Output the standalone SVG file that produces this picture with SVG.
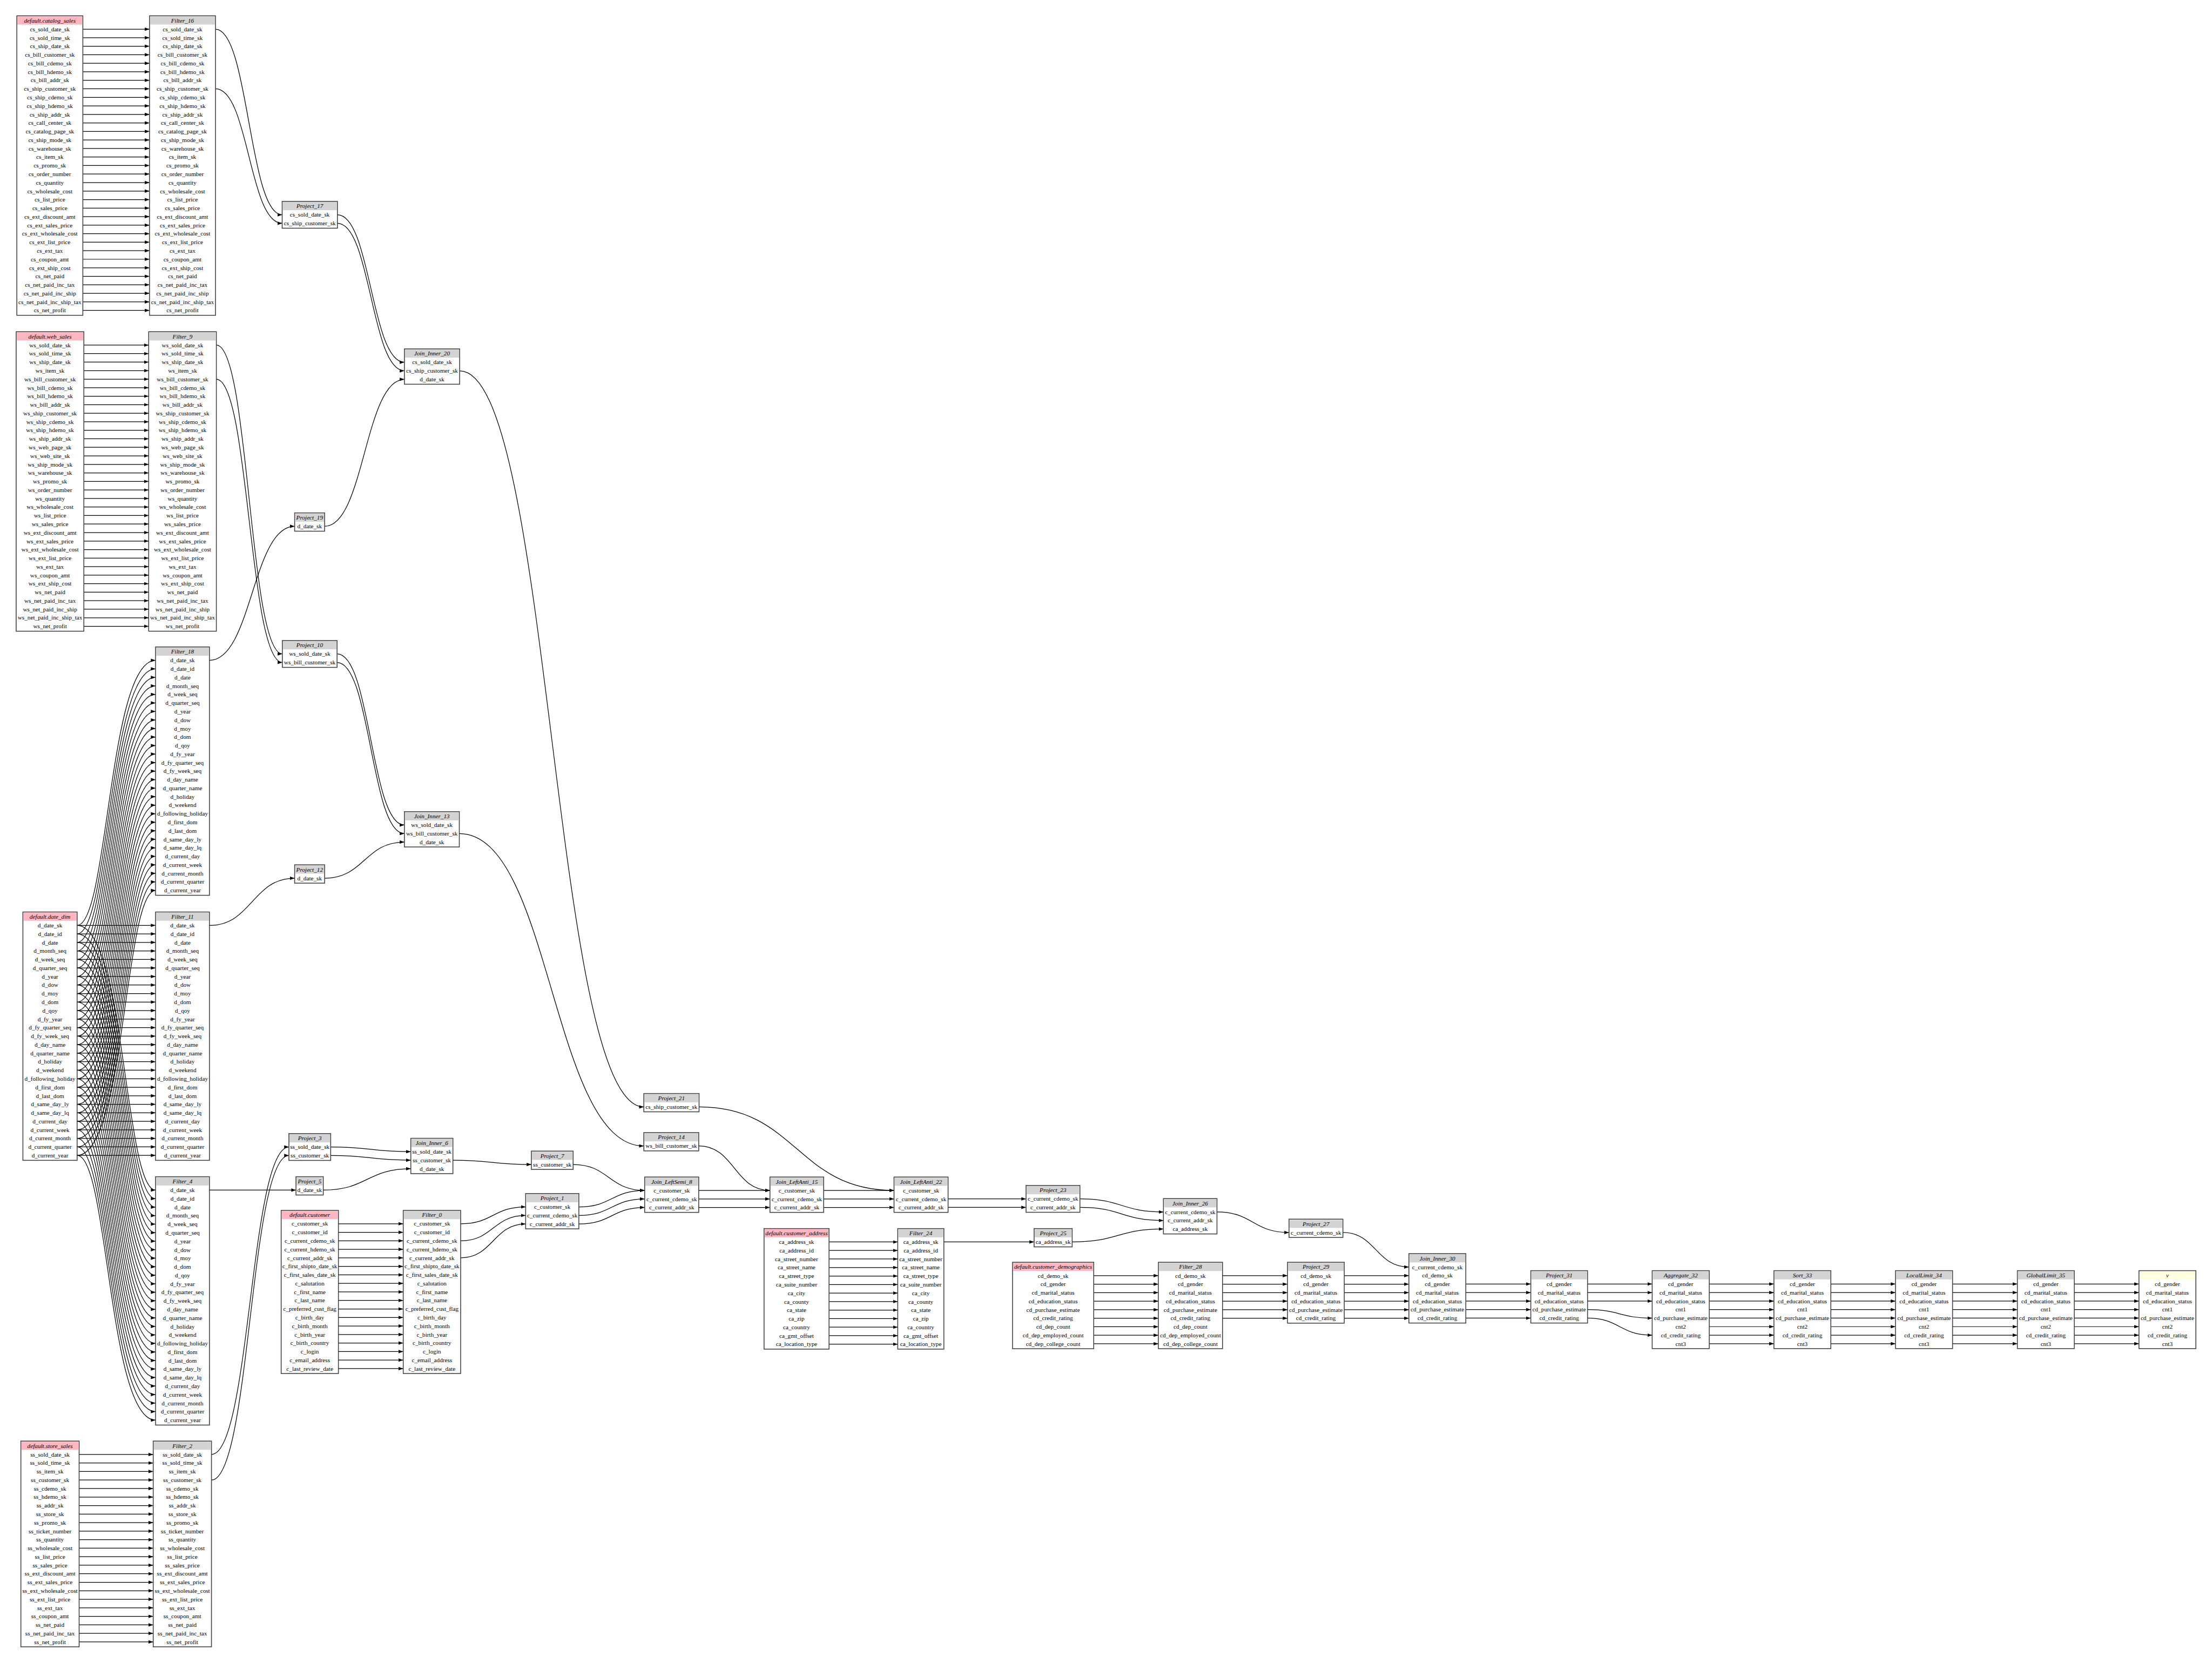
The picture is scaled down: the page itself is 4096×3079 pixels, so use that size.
<svg xmlns="http://www.w3.org/2000/svg" width="4096" height="3079" viewBox="0 0 4096 3079">
<style>
.b{fill:#fff;stroke:#404040;stroke-width:2.5}
.hg{fill:#d3d3d3}.hp{fill:#ffb6c1}.hy{fill:#ffffe0}
text{font-family:"Liberation Serif","Times New Roman",serif;font-size:18px;text-anchor:middle;fill:#000}
.h{font-style:italic}
.e path{fill:none;stroke:#000;stroke-width:2;marker-end:url(#a)}
</style>
<defs>
<marker id="a" markerUnits="userSpaceOnUse" markerWidth="15" markerHeight="10" refX="14" refY="5" orient="auto" viewBox="0 0 15 10"><path d="M0,0L14,5L0,10z" fill="#000"/></marker>
</defs>
<rect width="4096" height="3079" fill="#fff"/>
<g transform="scale(0.62354)">
<g id="connectors" class="e">
<path d="M246 86.7H444"/><path d="M246 112H444"/><path d="M246 137.3H444"/><path d="M246 162.6H444"/><path d="M246 187.9H444"/><path d="M246 213.2H444"/><path d="M246 238.5H444"/><path d="M246 263.8H444"/><path d="M246 289.1H444"/><path d="M246 314.4H444"/><path d="M246 339.7H444"/><path d="M246 365H444"/><path d="M246 390.3H444"/><path d="M246 415.6H444"/><path d="M246 440.9H444"/><path d="M246 466.2H444"/><path d="M246 491.5H444"/><path d="M246 516.8H444"/><path d="M246 542.1H444"/><path d="M246 567.4H444"/><path d="M246 592.7H444"/><path d="M246 618H444"/><path d="M246 643.3H444"/><path d="M246 668.6H444"/><path d="M246 693.9H444"/><path d="M246 719.2H444"/><path d="M246 744.5H444"/><path d="M246 769.8H444"/><path d="M246 795.1H444"/><path d="M246 820.4H444"/><path d="M246 845.7H444"/><path d="M246 871H444"/><path d="M246 896.3H444"/><path d="M246 921.6H444"/>
<path d="M249 1024.7H441.5"/><path d="M249 1050H441.5"/><path d="M249 1075.3H441.5"/><path d="M249 1100.6H441.5"/><path d="M249 1125.9H441.5"/><path d="M249 1151.2H441.5"/><path d="M249 1176.5H441.5"/><path d="M249 1201.8H441.5"/><path d="M249 1227.1H441.5"/><path d="M249 1252.4H441.5"/><path d="M249 1277.7H441.5"/><path d="M249 1303H441.5"/><path d="M249 1328.3H441.5"/><path d="M249 1353.6H441.5"/><path d="M249 1378.9H441.5"/><path d="M249 1404.2H441.5"/><path d="M249 1429.5H441.5"/><path d="M249 1454.8H441.5"/><path d="M249 1480.1H441.5"/><path d="M249 1505.4H441.5"/><path d="M249 1530.7H441.5"/><path d="M249 1556H441.5"/><path d="M249 1581.3H441.5"/><path d="M249 1606.6H441.5"/><path d="M249 1631.9H441.5"/><path d="M249 1657.2H441.5"/><path d="M249 1682.5H441.5"/><path d="M249 1707.8H441.5"/><path d="M249 1733.1H441.5"/><path d="M249 1758.4H441.5"/><path d="M249 1783.7H441.5"/><path d="M249 1809H441.5"/><path d="M249 1834.3H441.5"/><path d="M249 1859.6H441.5"/>
<path d="M229 2747.7H462"/><path d="M229 2773H462"/><path d="M229 2798.3H462"/><path d="M229 2823.6H462"/><path d="M229 2848.9H462"/><path d="M229 2874.2H462"/><path d="M229 2899.5H462"/><path d="M229 2924.8H462"/><path d="M229 2950.1H462"/><path d="M229 2975.4H462"/><path d="M229 3000.7H462"/><path d="M229 3026H462"/><path d="M229 3051.3H462"/><path d="M229 3076.6H462"/><path d="M229 3101.9H462"/><path d="M229 3127.2H462"/><path d="M229 3152.5H462"/><path d="M229 3177.8H462"/><path d="M229 3203.1H462"/><path d="M229 3228.4H462"/><path d="M229 3253.7H462"/><path d="M229 3279H462"/><path d="M229 3304.3H462"/><path d="M229 3329.6H462"/><path d="M229 3354.9H462"/><path d="M229 3380.2H462"/><path d="M229 3405.5H462"/><path d="M229 3430.8H462"/>
<path d="M229 2747.7C322 2747.7 322 1960.7 462 1960.7"/><path d="M229 2773C323.8 2773 323.8 1986 462 1986"/><path d="M229 2798.3C325.6 2798.3 325.6 2011.3 462 2011.3"/><path d="M229 2823.6C327.4 2823.6 327.4 2036.6 462 2036.6"/><path d="M229 2848.9C329.2 2848.9 329.2 2061.9 462 2061.9"/><path d="M229 2874.2C331 2874.2 331 2087.2 462 2087.2"/><path d="M229 2899.5C332.8 2899.5 332.8 2112.5 462 2112.5"/><path d="M229 2924.8C334.6 2924.8 334.6 2137.8 462 2137.8"/><path d="M229 2950.1C336.4 2950.1 336.4 2163.1 462 2163.1"/><path d="M229 2975.4C338.2 2975.4 338.2 2188.4 462 2188.4"/><path d="M229 3000.7C340 3000.7 340 2213.7 462 2213.7"/><path d="M229 3026C341.8 3026 341.8 2239 462 2239"/><path d="M229 3051.3C343.6 3051.3 343.6 2264.3 462 2264.3"/><path d="M229 3076.6C345.4 3076.6 345.4 2289.6 462 2289.6"/><path d="M229 3101.9C347.2 3101.9 347.2 2314.9 462 2314.9"/><path d="M229 3127.2C349 3127.2 349 2340.2 462 2340.2"/><path d="M229 3152.5C350.8 3152.5 350.8 2365.5 462 2365.5"/><path d="M229 3177.8C352.6 3177.8 352.6 2390.8 462 2390.8"/><path d="M229 3203.1C354.4 3203.1 354.4 2416.1 462 2416.1"/><path d="M229 3228.4C356.2 3228.4 356.2 2441.4 462 2441.4"/><path d="M229 3253.7C358 3253.7 358 2466.7 462 2466.7"/><path d="M229 3279C359.8 3279 359.8 2492 462 2492"/><path d="M229 3304.3C361.6 3304.3 361.6 2517.3 462 2517.3"/><path d="M229 3329.6C363.4 3329.6 363.4 2542.6 462 2542.6"/><path d="M229 3354.9C365.2 3354.9 365.2 2567.9 462 2567.9"/><path d="M229 3380.2C367 3380.2 367 2593.2 462 2593.2"/><path d="M229 3405.5C368.8 3405.5 368.8 2618.5 462 2618.5"/><path d="M229 3430.8C370.6 3430.8 370.6 2643.8 462 2643.8"/>
<path d="M229 2747.7C370.6 2747.7 370.6 3533.7 462 3533.7"/><path d="M229 2773C368.8 2773 368.8 3559 462 3559"/><path d="M229 2798.3C367 2798.3 367 3584.3 462 3584.3"/><path d="M229 2823.6C365.2 2823.6 365.2 3609.6 462 3609.6"/><path d="M229 2848.9C363.4 2848.9 363.4 3634.9 462 3634.9"/><path d="M229 2874.2C361.6 2874.2 361.6 3660.2 462 3660.2"/><path d="M229 2899.5C359.8 2899.5 359.8 3685.5 462 3685.5"/><path d="M229 2924.8C358 2924.8 358 3710.8 462 3710.8"/><path d="M229 2950.1C356.2 2950.1 356.2 3736.1 462 3736.1"/><path d="M229 2975.4C354.4 2975.4 354.4 3761.4 462 3761.4"/><path d="M229 3000.7C352.6 3000.7 352.6 3786.7 462 3786.7"/><path d="M229 3026C350.8 3026 350.8 3812 462 3812"/><path d="M229 3051.3C349 3051.3 349 3837.3 462 3837.3"/><path d="M229 3076.6C347.2 3076.6 347.2 3862.6 462 3862.6"/><path d="M229 3101.9C345.4 3101.9 345.4 3887.9 462 3887.9"/><path d="M229 3127.2C343.6 3127.2 343.6 3913.2 462 3913.2"/><path d="M229 3152.5C341.8 3152.5 341.8 3938.5 462 3938.5"/><path d="M229 3177.8C340 3177.8 340 3963.8 462 3963.8"/><path d="M229 3203.1C338.2 3203.1 338.2 3989.1 462 3989.1"/><path d="M229 3228.4C336.4 3228.4 336.4 4014.4 462 4014.4"/><path d="M229 3253.7C334.6 3253.7 334.6 4039.7 462 4039.7"/><path d="M229 3279C332.8 3279 332.8 4065 462 4065"/><path d="M229 3304.3C331 3304.3 331 4090.3 462 4090.3"/><path d="M229 3329.6C329.2 3329.6 329.2 4115.6 462 4115.6"/><path d="M229 3354.9C327.4 3354.9 327.4 4140.9 462 4140.9"/><path d="M229 3380.2C325.6 3380.2 325.6 4166.2 462 4166.2"/><path d="M229 3405.5C323.8 3405.5 323.8 4191.5 462 4191.5"/><path d="M229 3430.8C322 3430.8 322 4216.8 462 4216.8"/>
<path d="M235 4318.7H455"/><path d="M235 4344H455"/><path d="M235 4369.3H455"/><path d="M235 4394.6H455"/><path d="M235 4419.9H455"/><path d="M235 4445.2H455"/><path d="M235 4470.5H455"/><path d="M235 4495.8H455"/><path d="M235 4521.1H455"/><path d="M235 4546.4H455"/><path d="M235 4571.7H455"/><path d="M235 4597H455"/><path d="M235 4622.3H455"/><path d="M235 4647.6H455"/><path d="M235 4672.9H455"/><path d="M235 4698.2H455"/><path d="M235 4723.5H455"/><path d="M235 4748.8H455"/><path d="M235 4774.1H455"/><path d="M235 4799.4H455"/><path d="M235 4824.7H455"/><path d="M235 4850H455"/><path d="M235 4875.3H455"/>
<path d="M1005 3633.7H1197.5"/><path d="M1005 3659H1197.5"/><path d="M1005 3684.3H1197.5"/><path d="M1005 3709.6H1197.5"/><path d="M1005 3734.9H1197.5"/><path d="M1005 3760.2H1197.5"/><path d="M1005 3785.5H1197.5"/><path d="M1005 3810.8H1197.5"/><path d="M1005 3836.1H1197.5"/><path d="M1005 3861.4H1197.5"/><path d="M1005 3886.7H1197.5"/><path d="M1005 3912H1197.5"/><path d="M1005 3937.3H1197.5"/><path d="M1005 3962.6H1197.5"/><path d="M1005 3987.9H1197.5"/><path d="M1005 4013.2H1197.5"/><path d="M1005 4038.5H1197.5"/><path d="M1005 4063.8H1197.5"/>
<path d="M2462 3687.7H2666"/><path d="M2462 3713H2666"/><path d="M2462 3738.3H2666"/><path d="M2462 3763.6H2666"/><path d="M2462 3788.9H2666"/><path d="M2462 3814.2H2666"/><path d="M2462 3839.5H2666"/><path d="M2462 3864.8H2666"/><path d="M2462 3890.1H2666"/><path d="M2462 3915.4H2666"/><path d="M2462 3940.7H2666"/><path d="M2462 3966H2666"/><path d="M2462 3991.3H2666"/>
<path d="M3248 3787.7H3440"/><path d="M3248 3813H3440"/><path d="M3248 3838.3H3440"/><path d="M3248 3863.6H3440"/><path d="M3248 3888.9H3440"/><path d="M3248 3914.2H3440"/><path d="M3248 3939.5H3440"/><path d="M3248 3964.8H3440"/><path d="M3248 3990.1H3440"/>
<path d="M3630.5 3787.7H3823.5"/><path d="M3630.5 3813H3823.5"/><path d="M3630.5 3838.3H3823.5"/><path d="M3630.5 3863.6H3823.5"/><path d="M3630.5 3888.9H3823.5"/><path d="M3630.5 3914.2H3823.5"/>
<path d="M3992 3787.7H4184"/><path d="M3992 3813H4184"/><path d="M3992 3838.3H4184"/><path d="M3992 3863.6H4184"/><path d="M3992 3888.9H4184"/><path d="M3992 3914.2H4184"/>
<path d="M4353 3812.7H4546"/><path d="M4353 3838H4546"/><path d="M4353 3863.3H4546"/><path d="M4353 3888.6H4546"/><path d="M4353 3913.9H4546"/>
<path d="M4714.5 3812.7H4906.5"/><path d="M4714.5 3838H4906.5"/><path d="M4714.5 3863.3H4906.5"/><path d="M4714.5 3888.6C4810 3888.6 4810 3913.9 4906.5 3913.9"/><path d="M4714.5 3913.9C4810 3913.9 4810 3964.5 4906.5 3964.5"/>
<path d="M5076 3812.7H5268"/><path d="M5076 3838H5268"/><path d="M5076 3863.3H5268"/><path d="M5076 3888.6H5268"/><path d="M5076 3913.9H5268"/><path d="M5076 3939.2H5268"/><path d="M5076 3964.5H5268"/><path d="M5076 3989.8H5268"/>
<path d="M5437 3812.7H5629"/><path d="M5437 3838H5629"/><path d="M5437 3863.3H5629"/><path d="M5437 3888.6H5629"/><path d="M5437 3913.9H5629"/><path d="M5437 3939.2H5629"/><path d="M5437 3964.5H5629"/><path d="M5437 3989.8H5629"/>
<path d="M5798.5 3812.7H5991"/><path d="M5798.5 3838H5991"/><path d="M5798.5 3863.3H5991"/><path d="M5798.5 3888.6H5991"/><path d="M5798.5 3913.9H5991"/><path d="M5798.5 3939.2H5991"/><path d="M5798.5 3964.5H5991"/><path d="M5798.5 3989.8H5991"/>
<path d="M6160 3812.7H6352"/><path d="M6160 3838H6352"/><path d="M6160 3863.3H6352"/><path d="M6160 3888.6H6352"/><path d="M6160 3913.9H6352"/><path d="M6160 3939.2H6352"/><path d="M6160 3964.5H6352"/><path d="M6160 3989.8H6352"/>
<path d="M640 86.7C739 86.7 739 637.7 838 637.7"/>
<path d="M640 263.8C739 263.8 739 663 838 663"/>
<path d="M642.5 1024.7C740 1024.7 740 1941.7 838.5 1941.7"/>
<path d="M642.5 1125.9C740 1125.9 740 1967 838.5 1967"/>
<path d="M622 1960.7C748 1960.7 749 1562.7 875 1562.7"/>
<path d="M964 1562.7C1082 1562.7 1083 1126.3 1201 1126.3"/>
<path d="M1002 637.7C1101 637.7 1102 1075.7 1201 1075.7"/>
<path d="M1002 663C1101 663 1102 1101 1201 1101"/>
<path d="M1001 1941.7C1101 1941.7 1101 2449.7 1201 2449.7"/>
<path d="M1001 1967C1101 1967 1101 2475 1201 2475"/>
<path d="M622 2747.7C748 2747.7 749 2607.7 875 2607.7"/>
<path d="M964 2607.7C1082 2607.7 1083 2500.3 1201 2500.3"/>
<path d="M1365 1101C1638 1101 1639 3286.7 1912 3286.7"/>
<path d="M1364 2475C1638 2475 1638 3402.7 1912 3402.7"/>
<path d="M628 4318.7C743 4318.7 743 3405.7 858 3405.7"/>
<path d="M628 4394.6C743 4394.6 743 3431 858 3431"/>
<path d="M622 3533.7H879"/>
<path d="M982 3405.7C1101 3405.7 1101 3419.7 1220 3419.7"/>
<path d="M982 3431C1101 3431 1101 3445 1220 3445"/>
<path d="M960 3533.7C1090 3533.7 1090 3470.3 1220 3470.3"/>
<path d="M1345 3445C1461 3445 1462 3457.7 1578 3457.7"/>
<path d="M1702 3457.7C1808 3457.7 1808 3534.7 1914.5 3534.7"/>
<path d="M1368 3633.7C1464 3633.7 1465 3583.7 1561 3583.7"/>
<path d="M1368 3684.3C1464 3684.3 1465 3609 1561 3609"/>
<path d="M1368 3734.9C1464 3734.9 1465 3634.3 1561 3634.3"/>
<path d="M1719 3583.7C1817 3583.7 1817 3534.7 1914.5 3534.7"/>
<path d="M1719 3609C1817 3609 1817 3560 1914.5 3560"/>
<path d="M1719 3634.3C1817 3634.3 1817 3585.3 1914.5 3585.3"/>
<path d="M2075 3534.7H2286.5"/><path d="M2075 3560H2286.5"/><path d="M2075 3585.3H2286.5"/>
<path d="M2075 3402.7C2181 3402.7 2181 3534.7 2286.5 3534.7"/>
<path d="M2446 3534.7H2655"/><path d="M2446 3560H2655"/><path d="M2446 3585.3H2655"/>
<path d="M2076 3286.7C2366 3286.7 2366 3534.7 2655 3534.7"/>
<path d="M2815.5 3559.8H3047"/><path d="M2815.5 3585.1H3047"/>
<path d="M3207 3559.7C3331 3559.7 3331 3598.7 3455 3598.7"/>
<path d="M3207 3585C3331 3585 3331 3624 3455 3624"/>
<path d="M2803 3687.7H3071"/>
<path d="M3184 3687.7C3320 3687.7 3320 3649.3 3455 3649.3"/>
<path d="M3614 3598.7C3721 3598.7 3721 3659.7 3828 3659.7"/>
<path d="M3988 3659.7C4086 3659.7 4086 3762.1 4184 3762.1"/>
</g>
<g id="default.catalog_sales" transform="translate(50,47)"><rect class="b" width="196" height="889.2"/><rect class="hp" x="2" y="2" width="192" height="24"/><text class="h" x="98" y="20">default.catalog_sales</text>
<text x="98" y="45.7">cs_sold_date_sk</text><text x="98" y="71">cs_sold_time_sk</text><text x="98" y="96.3">cs_ship_date_sk</text><text x="98" y="121.6">cs_bill_customer_sk</text><text x="98" y="146.9">cs_bill_cdemo_sk</text><text x="98" y="172.2">cs_bill_hdemo_sk</text><text x="98" y="197.5">cs_bill_addr_sk</text><text x="98" y="222.8">cs_ship_customer_sk</text><text x="98" y="248.1">cs_ship_cdemo_sk</text><text x="98" y="273.4">cs_ship_hdemo_sk</text><text x="98" y="298.7">cs_ship_addr_sk</text><text x="98" y="324">cs_call_center_sk</text><text x="98" y="349.3">cs_catalog_page_sk</text><text x="98" y="374.6">cs_ship_mode_sk</text><text x="98" y="399.9">cs_warehouse_sk</text><text x="98" y="425.2">cs_item_sk</text><text x="98" y="450.5">cs_promo_sk</text><text x="98" y="475.8">cs_order_number</text><text x="98" y="501.1">cs_quantity</text><text x="98" y="526.4">cs_wholesale_cost</text><text x="98" y="551.7">cs_list_price</text><text x="98" y="577">cs_sales_price</text><text x="98" y="602.3">cs_ext_discount_amt</text><text x="98" y="627.6">cs_ext_sales_price</text><text x="98" y="652.9">cs_ext_wholesale_cost</text><text x="98" y="678.2">cs_ext_list_price</text><text x="98" y="703.5">cs_ext_tax</text><text x="98" y="728.8">cs_coupon_amt</text><text x="98" y="754.1">cs_ext_ship_cost</text><text x="98" y="779.4">cs_net_paid</text><text x="98" y="804.7">cs_net_paid_inc_tax</text><text x="98" y="830">cs_net_paid_inc_ship</text><text x="98" y="855.3">cs_net_paid_inc_ship_tax</text><text x="98" y="880.6">cs_net_profit</text></g>
<g id="Filter_16" transform="translate(444,47)"><rect class="b" width="196" height="889.2"/><rect class="hg" x="2" y="2" width="192" height="24"/><text class="h" x="98" y="20">Filter_16</text>
<text x="98" y="45.7">cs_sold_date_sk</text><text x="98" y="71">cs_sold_time_sk</text><text x="98" y="96.3">cs_ship_date_sk</text><text x="98" y="121.6">cs_bill_customer_sk</text><text x="98" y="146.9">cs_bill_cdemo_sk</text><text x="98" y="172.2">cs_bill_hdemo_sk</text><text x="98" y="197.5">cs_bill_addr_sk</text><text x="98" y="222.8">cs_ship_customer_sk</text><text x="98" y="248.1">cs_ship_cdemo_sk</text><text x="98" y="273.4">cs_ship_hdemo_sk</text><text x="98" y="298.7">cs_ship_addr_sk</text><text x="98" y="324">cs_call_center_sk</text><text x="98" y="349.3">cs_catalog_page_sk</text><text x="98" y="374.6">cs_ship_mode_sk</text><text x="98" y="399.9">cs_warehouse_sk</text><text x="98" y="425.2">cs_item_sk</text><text x="98" y="450.5">cs_promo_sk</text><text x="98" y="475.8">cs_order_number</text><text x="98" y="501.1">cs_quantity</text><text x="98" y="526.4">cs_wholesale_cost</text><text x="98" y="551.7">cs_list_price</text><text x="98" y="577">cs_sales_price</text><text x="98" y="602.3">cs_ext_discount_amt</text><text x="98" y="627.6">cs_ext_sales_price</text><text x="98" y="652.9">cs_ext_wholesale_cost</text><text x="98" y="678.2">cs_ext_list_price</text><text x="98" y="703.5">cs_ext_tax</text><text x="98" y="728.8">cs_coupon_amt</text><text x="98" y="754.1">cs_ext_ship_cost</text><text x="98" y="779.4">cs_net_paid</text><text x="98" y="804.7">cs_net_paid_inc_tax</text><text x="98" y="830">cs_net_paid_inc_ship</text><text x="98" y="855.3">cs_net_paid_inc_ship_tax</text><text x="98" y="880.6">cs_net_profit</text></g>
<g id="default.web_sales" transform="translate(48,985)"><rect class="b" width="201" height="889.2"/><rect class="hp" x="2" y="2" width="197" height="24"/><text class="h" x="100.5" y="20">default.web_sales</text>
<text x="100.5" y="45.7">ws_sold_date_sk</text><text x="100.5" y="71">ws_sold_time_sk</text><text x="100.5" y="96.3">ws_ship_date_sk</text><text x="100.5" y="121.6">ws_item_sk</text><text x="100.5" y="146.9">ws_bill_customer_sk</text><text x="100.5" y="172.2">ws_bill_cdemo_sk</text><text x="100.5" y="197.5">ws_bill_hdemo_sk</text><text x="100.5" y="222.8">ws_bill_addr_sk</text><text x="100.5" y="248.1">ws_ship_customer_sk</text><text x="100.5" y="273.4">ws_ship_cdemo_sk</text><text x="100.5" y="298.7">ws_ship_hdemo_sk</text><text x="100.5" y="324">ws_ship_addr_sk</text><text x="100.5" y="349.3">ws_web_page_sk</text><text x="100.5" y="374.6">ws_web_site_sk</text><text x="100.5" y="399.9">ws_ship_mode_sk</text><text x="100.5" y="425.2">ws_warehouse_sk</text><text x="100.5" y="450.5">ws_promo_sk</text><text x="100.5" y="475.8">ws_order_number</text><text x="100.5" y="501.1">ws_quantity</text><text x="100.5" y="526.4">ws_wholesale_cost</text><text x="100.5" y="551.7">ws_list_price</text><text x="100.5" y="577">ws_sales_price</text><text x="100.5" y="602.3">ws_ext_discount_amt</text><text x="100.5" y="627.6">ws_ext_sales_price</text><text x="100.5" y="652.9">ws_ext_wholesale_cost</text><text x="100.5" y="678.2">ws_ext_list_price</text><text x="100.5" y="703.5">ws_ext_tax</text><text x="100.5" y="728.8">ws_coupon_amt</text><text x="100.5" y="754.1">ws_ext_ship_cost</text><text x="100.5" y="779.4">ws_net_paid</text><text x="100.5" y="804.7">ws_net_paid_inc_tax</text><text x="100.5" y="830">ws_net_paid_inc_ship</text><text x="100.5" y="855.3">ws_net_paid_inc_ship_tax</text><text x="100.5" y="880.6">ws_net_profit</text></g>
<g id="Filter_9" transform="translate(441.5,985)"><rect class="b" width="201" height="889.2"/><rect class="hg" x="2" y="2" width="197" height="24"/><text class="h" x="100.5" y="20">Filter_9</text>
<text x="100.5" y="45.7">ws_sold_date_sk</text><text x="100.5" y="71">ws_sold_time_sk</text><text x="100.5" y="96.3">ws_ship_date_sk</text><text x="100.5" y="121.6">ws_item_sk</text><text x="100.5" y="146.9">ws_bill_customer_sk</text><text x="100.5" y="172.2">ws_bill_cdemo_sk</text><text x="100.5" y="197.5">ws_bill_hdemo_sk</text><text x="100.5" y="222.8">ws_bill_addr_sk</text><text x="100.5" y="248.1">ws_ship_customer_sk</text><text x="100.5" y="273.4">ws_ship_cdemo_sk</text><text x="100.5" y="298.7">ws_ship_hdemo_sk</text><text x="100.5" y="324">ws_ship_addr_sk</text><text x="100.5" y="349.3">ws_web_page_sk</text><text x="100.5" y="374.6">ws_web_site_sk</text><text x="100.5" y="399.9">ws_ship_mode_sk</text><text x="100.5" y="425.2">ws_warehouse_sk</text><text x="100.5" y="450.5">ws_promo_sk</text><text x="100.5" y="475.8">ws_order_number</text><text x="100.5" y="501.1">ws_quantity</text><text x="100.5" y="526.4">ws_wholesale_cost</text><text x="100.5" y="551.7">ws_list_price</text><text x="100.5" y="577">ws_sales_price</text><text x="100.5" y="602.3">ws_ext_discount_amt</text><text x="100.5" y="627.6">ws_ext_sales_price</text><text x="100.5" y="652.9">ws_ext_wholesale_cost</text><text x="100.5" y="678.2">ws_ext_list_price</text><text x="100.5" y="703.5">ws_ext_tax</text><text x="100.5" y="728.8">ws_coupon_amt</text><text x="100.5" y="754.1">ws_ext_ship_cost</text><text x="100.5" y="779.4">ws_net_paid</text><text x="100.5" y="804.7">ws_net_paid_inc_tax</text><text x="100.5" y="830">ws_net_paid_inc_ship</text><text x="100.5" y="855.3">ws_net_paid_inc_ship_tax</text><text x="100.5" y="880.6">ws_net_profit</text></g>
<g id="default.date_dim" transform="translate(68,2708)"><rect class="b" width="161" height="737.4"/><rect class="hp" x="2" y="2" width="157" height="24"/><text class="h" x="80.5" y="20">default.date_dim</text>
<text x="80.5" y="45.7">d_date_sk</text><text x="80.5" y="71">d_date_id</text><text x="80.5" y="96.3">d_date</text><text x="80.5" y="121.6">d_month_seq</text><text x="80.5" y="146.9">d_week_seq</text><text x="80.5" y="172.2">d_quarter_seq</text><text x="80.5" y="197.5">d_year</text><text x="80.5" y="222.8">d_dow</text><text x="80.5" y="248.1">d_moy</text><text x="80.5" y="273.4">d_dom</text><text x="80.5" y="298.7">d_qoy</text><text x="80.5" y="324">d_fy_year</text><text x="80.5" y="349.3">d_fy_quarter_seq</text><text x="80.5" y="374.6">d_fy_week_seq</text><text x="80.5" y="399.9">d_day_name</text><text x="80.5" y="425.2">d_quarter_name</text><text x="80.5" y="450.5">d_holiday</text><text x="80.5" y="475.8">d_weekend</text><text x="80.5" y="501.1">d_following_holiday</text><text x="80.5" y="526.4">d_first_dom</text><text x="80.5" y="551.7">d_last_dom</text><text x="80.5" y="577">d_same_day_ly</text><text x="80.5" y="602.3">d_same_day_lq</text><text x="80.5" y="627.6">d_current_day</text><text x="80.5" y="652.9">d_current_week</text><text x="80.5" y="678.2">d_current_month</text><text x="80.5" y="703.5">d_current_quarter</text><text x="80.5" y="728.8">d_current_year</text></g>
<g id="Filter_18" transform="translate(462,1921)"><rect class="b" width="160" height="737.4"/><rect class="hg" x="2" y="2" width="156" height="24"/><text class="h" x="80" y="20">Filter_18</text>
<text x="80" y="45.7">d_date_sk</text><text x="80" y="71">d_date_id</text><text x="80" y="96.3">d_date</text><text x="80" y="121.6">d_month_seq</text><text x="80" y="146.9">d_week_seq</text><text x="80" y="172.2">d_quarter_seq</text><text x="80" y="197.5">d_year</text><text x="80" y="222.8">d_dow</text><text x="80" y="248.1">d_moy</text><text x="80" y="273.4">d_dom</text><text x="80" y="298.7">d_qoy</text><text x="80" y="324">d_fy_year</text><text x="80" y="349.3">d_fy_quarter_seq</text><text x="80" y="374.6">d_fy_week_seq</text><text x="80" y="399.9">d_day_name</text><text x="80" y="425.2">d_quarter_name</text><text x="80" y="450.5">d_holiday</text><text x="80" y="475.8">d_weekend</text><text x="80" y="501.1">d_following_holiday</text><text x="80" y="526.4">d_first_dom</text><text x="80" y="551.7">d_last_dom</text><text x="80" y="577">d_same_day_ly</text><text x="80" y="602.3">d_same_day_lq</text><text x="80" y="627.6">d_current_day</text><text x="80" y="652.9">d_current_week</text><text x="80" y="678.2">d_current_month</text><text x="80" y="703.5">d_current_quarter</text><text x="80" y="728.8">d_current_year</text></g>
<g id="Filter_11" transform="translate(462,2708)"><rect class="b" width="160" height="737.4"/><rect class="hg" x="2" y="2" width="156" height="24"/><text class="h" x="80" y="20">Filter_11</text>
<text x="80" y="45.7">d_date_sk</text><text x="80" y="71">d_date_id</text><text x="80" y="96.3">d_date</text><text x="80" y="121.6">d_month_seq</text><text x="80" y="146.9">d_week_seq</text><text x="80" y="172.2">d_quarter_seq</text><text x="80" y="197.5">d_year</text><text x="80" y="222.8">d_dow</text><text x="80" y="248.1">d_moy</text><text x="80" y="273.4">d_dom</text><text x="80" y="298.7">d_qoy</text><text x="80" y="324">d_fy_year</text><text x="80" y="349.3">d_fy_quarter_seq</text><text x="80" y="374.6">d_fy_week_seq</text><text x="80" y="399.9">d_day_name</text><text x="80" y="425.2">d_quarter_name</text><text x="80" y="450.5">d_holiday</text><text x="80" y="475.8">d_weekend</text><text x="80" y="501.1">d_following_holiday</text><text x="80" y="526.4">d_first_dom</text><text x="80" y="551.7">d_last_dom</text><text x="80" y="577">d_same_day_ly</text><text x="80" y="602.3">d_same_day_lq</text><text x="80" y="627.6">d_current_day</text><text x="80" y="652.9">d_current_week</text><text x="80" y="678.2">d_current_month</text><text x="80" y="703.5">d_current_quarter</text><text x="80" y="728.8">d_current_year</text></g>
<g id="Filter_4" transform="translate(462,3494)"><rect class="b" width="160" height="737.4"/><rect class="hg" x="2" y="2" width="156" height="24"/><text class="h" x="80" y="20">Filter_4</text>
<text x="80" y="45.7">d_date_sk</text><text x="80" y="71">d_date_id</text><text x="80" y="96.3">d_date</text><text x="80" y="121.6">d_month_seq</text><text x="80" y="146.9">d_week_seq</text><text x="80" y="172.2">d_quarter_seq</text><text x="80" y="197.5">d_year</text><text x="80" y="222.8">d_dow</text><text x="80" y="248.1">d_moy</text><text x="80" y="273.4">d_dom</text><text x="80" y="298.7">d_qoy</text><text x="80" y="324">d_fy_year</text><text x="80" y="349.3">d_fy_quarter_seq</text><text x="80" y="374.6">d_fy_week_seq</text><text x="80" y="399.9">d_day_name</text><text x="80" y="425.2">d_quarter_name</text><text x="80" y="450.5">d_holiday</text><text x="80" y="475.8">d_weekend</text><text x="80" y="501.1">d_following_holiday</text><text x="80" y="526.4">d_first_dom</text><text x="80" y="551.7">d_last_dom</text><text x="80" y="577">d_same_day_ly</text><text x="80" y="602.3">d_same_day_lq</text><text x="80" y="627.6">d_current_day</text><text x="80" y="652.9">d_current_week</text><text x="80" y="678.2">d_current_month</text><text x="80" y="703.5">d_current_quarter</text><text x="80" y="728.8">d_current_year</text></g>
<g id="default.store_sales" transform="translate(62,4279)"><rect class="b" width="173" height="610.9"/><rect class="hp" x="2" y="2" width="169" height="24"/><text class="h" x="86.5" y="20">default.store_sales</text>
<text x="86.5" y="45.7">ss_sold_date_sk</text><text x="86.5" y="71">ss_sold_time_sk</text><text x="86.5" y="96.3">ss_item_sk</text><text x="86.5" y="121.6">ss_customer_sk</text><text x="86.5" y="146.9">ss_cdemo_sk</text><text x="86.5" y="172.2">ss_hdemo_sk</text><text x="86.5" y="197.5">ss_addr_sk</text><text x="86.5" y="222.8">ss_store_sk</text><text x="86.5" y="248.1">ss_promo_sk</text><text x="86.5" y="273.4">ss_ticket_number</text><text x="86.5" y="298.7">ss_quantity</text><text x="86.5" y="324">ss_wholesale_cost</text><text x="86.5" y="349.3">ss_list_price</text><text x="86.5" y="374.6">ss_sales_price</text><text x="86.5" y="399.9">ss_ext_discount_amt</text><text x="86.5" y="425.2">ss_ext_sales_price</text><text x="86.5" y="450.5">ss_ext_wholesale_cost</text><text x="86.5" y="475.8">ss_ext_list_price</text><text x="86.5" y="501.1">ss_ext_tax</text><text x="86.5" y="526.4">ss_coupon_amt</text><text x="86.5" y="551.7">ss_net_paid</text><text x="86.5" y="577">ss_net_paid_inc_tax</text><text x="86.5" y="602.3">ss_net_profit</text></g>
<g id="Filter_2" transform="translate(455,4279)"><rect class="b" width="173" height="610.9"/><rect class="hg" x="2" y="2" width="169" height="24"/><text class="h" x="86.5" y="20">Filter_2</text>
<text x="86.5" y="45.7">ss_sold_date_sk</text><text x="86.5" y="71">ss_sold_time_sk</text><text x="86.5" y="96.3">ss_item_sk</text><text x="86.5" y="121.6">ss_customer_sk</text><text x="86.5" y="146.9">ss_cdemo_sk</text><text x="86.5" y="172.2">ss_hdemo_sk</text><text x="86.5" y="197.5">ss_addr_sk</text><text x="86.5" y="222.8">ss_store_sk</text><text x="86.5" y="248.1">ss_promo_sk</text><text x="86.5" y="273.4">ss_ticket_number</text><text x="86.5" y="298.7">ss_quantity</text><text x="86.5" y="324">ss_wholesale_cost</text><text x="86.5" y="349.3">ss_list_price</text><text x="86.5" y="374.6">ss_sales_price</text><text x="86.5" y="399.9">ss_ext_discount_amt</text><text x="86.5" y="425.2">ss_ext_sales_price</text><text x="86.5" y="450.5">ss_ext_wholesale_cost</text><text x="86.5" y="475.8">ss_ext_list_price</text><text x="86.5" y="501.1">ss_ext_tax</text><text x="86.5" y="526.4">ss_coupon_amt</text><text x="86.5" y="551.7">ss_net_paid</text><text x="86.5" y="577">ss_net_paid_inc_tax</text><text x="86.5" y="602.3">ss_net_profit</text></g>
<g id="Project_17" transform="translate(838,598)"><rect class="b" width="164" height="79.6"/><rect class="hg" x="2" y="2" width="160" height="24"/><text class="h" x="82" y="20">Project_17</text><text x="82" y="45.7">cs_sold_date_sk</text><text x="82" y="71">cs_ship_customer_sk</text></g>
<g id="Project_19" transform="translate(875,1523)"><rect class="b" width="89" height="54.3"/><rect class="hg" x="2" y="2" width="85" height="24"/><text class="h" x="44.5" y="20">Project_19</text><text x="44.5" y="45.7">d_date_sk</text></g>
<g id="Project_10" transform="translate(838.5,1902)"><rect class="b" width="162.5" height="79.6"/><rect class="hg" x="2" y="2" width="158.5" height="24"/><text class="h" x="81.25" y="20">Project_10</text><text x="81.25" y="45.7">ws_sold_date_sk</text><text x="81.25" y="71">ws_bill_customer_sk</text></g>
<g id="Project_12" transform="translate(875,2568)"><rect class="b" width="89" height="54.3"/><rect class="hg" x="2" y="2" width="85" height="24"/><text class="h" x="44.5" y="20">Project_12</text><text x="44.5" y="45.7">d_date_sk</text></g>
<g id="Project_3" transform="translate(858,3366)"><rect class="b" width="124" height="79.6"/><rect class="hg" x="2" y="2" width="120" height="24"/><text class="h" x="62" y="20">Project_3</text><text x="62" y="45.7">ss_sold_date_sk</text><text x="62" y="71">ss_customer_sk</text></g>
<g id="Project_5" transform="translate(879,3494)"><rect class="b" width="81" height="54.3"/><rect class="hg" x="2" y="2" width="77" height="24"/><text class="h" x="40.5" y="20">Project_5</text><text x="40.5" y="45.7">d_date_sk</text></g>
<g id="default.customer" transform="translate(835,3594)"><rect class="b" width="170" height="484.4"/><rect class="hp" x="2" y="2" width="166" height="24"/><text class="h" x="85" y="20">default.customer</text>
<text x="85" y="45.7">c_customer_sk</text><text x="85" y="71">c_customer_id</text><text x="85" y="96.3">c_current_cdemo_sk</text><text x="85" y="121.6">c_current_hdemo_sk</text><text x="85" y="146.9">c_current_addr_sk</text><text x="85" y="172.2">c_first_shipto_date_sk</text><text x="85" y="197.5">c_first_sales_date_sk</text><text x="85" y="222.8">c_salutation</text><text x="85" y="248.1">c_first_name</text><text x="85" y="273.4">c_last_name</text><text x="85" y="298.7">c_preferred_cust_flag</text><text x="85" y="324">c_birth_day</text><text x="85" y="349.3">c_birth_month</text><text x="85" y="374.6">c_birth_year</text><text x="85" y="399.9">c_birth_country</text><text x="85" y="425.2">c_login</text><text x="85" y="450.5">c_email_address</text><text x="85" y="475.8">c_last_review_date</text></g>
<g id="Join_Inner_20" transform="translate(1201,1036)"><rect class="b" width="164" height="104.9"/><rect class="hg" x="2" y="2" width="160" height="24"/><text class="h" x="82" y="20">Join_Inner_20</text><text x="82" y="45.7">cs_sold_date_sk</text><text x="82" y="71">cs_ship_customer_sk</text><text x="82" y="96.3">d_date_sk</text></g>
<g id="Join_Inner_13" transform="translate(1201,2410)"><rect class="b" width="163" height="104.9"/><rect class="hg" x="2" y="2" width="159" height="24"/><text class="h" x="81.5" y="20">Join_Inner_13</text><text x="81.5" y="45.7">ws_sold_date_sk</text><text x="81.5" y="71">ws_bill_customer_sk</text><text x="81.5" y="96.3">d_date_sk</text></g>
<g id="Join_Inner_6" transform="translate(1220,3380)"><rect class="b" width="125" height="104.9"/><rect class="hg" x="2" y="2" width="121" height="24"/><text class="h" x="62.5" y="20">Join_Inner_6</text><text x="62.5" y="45.7">ss_sold_date_sk</text><text x="62.5" y="71">ss_customer_sk</text><text x="62.5" y="96.3">d_date_sk</text></g>
<g id="Filter_0" transform="translate(1197.5,3594)"><rect class="b" width="170.5" height="484.4"/><rect class="hg" x="2" y="2" width="166.5" height="24"/><text class="h" x="85.25" y="20">Filter_0</text>
<text x="85.25" y="45.7">c_customer_sk</text><text x="85.25" y="71">c_customer_id</text><text x="85.25" y="96.3">c_current_cdemo_sk</text><text x="85.25" y="121.6">c_current_hdemo_sk</text><text x="85.25" y="146.9">c_current_addr_sk</text><text x="85.25" y="172.2">c_first_shipto_date_sk</text><text x="85.25" y="197.5">c_first_sales_date_sk</text><text x="85.25" y="222.8">c_salutation</text><text x="85.25" y="248.1">c_first_name</text><text x="85.25" y="273.4">c_last_name</text><text x="85.25" y="298.7">c_preferred_cust_flag</text><text x="85.25" y="324">c_birth_day</text><text x="85.25" y="349.3">c_birth_month</text><text x="85.25" y="374.6">c_birth_year</text><text x="85.25" y="399.9">c_birth_country</text><text x="85.25" y="425.2">c_login</text><text x="85.25" y="450.5">c_email_address</text><text x="85.25" y="475.8">c_last_review_date</text></g>
<g id="Project_7" transform="translate(1578,3418)"><rect class="b" width="124" height="54.3"/><rect class="hg" x="2" y="2" width="120" height="24"/><text class="h" x="62" y="20">Project_7</text><text x="62" y="45.7">ss_customer_sk</text></g>
<g id="Project_1" transform="translate(1561,3544)"><rect class="b" width="158" height="104.9"/><rect class="hg" x="2" y="2" width="154" height="24"/><text class="h" x="79" y="20">Project_1</text><text x="79" y="45.7">c_customer_sk</text><text x="79" y="71">c_current_cdemo_sk</text><text x="79" y="96.3">c_current_addr_sk</text></g>
<g id="Project_21" transform="translate(1912,3247)"><rect class="b" width="164" height="54.3"/><rect class="hg" x="2" y="2" width="160" height="24"/><text class="h" x="82" y="20">Project_21</text><text x="82" y="45.7">cs_ship_customer_sk</text></g>
<g id="Project_14" transform="translate(1912,3363)"><rect class="b" width="163" height="54.3"/><rect class="hg" x="2" y="2" width="159" height="24"/><text class="h" x="81.5" y="20">Project_14</text><text x="81.5" y="45.7">ws_bill_customer_sk</text></g>
<g id="Join_LeftSemi_8" transform="translate(1914.5,3495)"><rect class="b" width="160.5" height="104.9"/><rect class="hg" x="2" y="2" width="156.5" height="24"/><text class="h" x="80.25" y="20">Join_LeftSemi_8</text><text x="80.25" y="45.7">c_customer_sk</text><text x="80.25" y="71">c_current_cdemo_sk</text><text x="80.25" y="96.3">c_current_addr_sk</text></g>
<g id="Join_LeftAnti_15" transform="translate(2286.5,3495)"><rect class="b" width="159.5" height="104.9"/><rect class="hg" x="2" y="2" width="155.5" height="24"/><text class="h" x="79.75" y="20">Join_LeftAnti_15</text><text x="79.75" y="45.7">c_customer_sk</text><text x="79.75" y="71">c_current_cdemo_sk</text><text x="79.75" y="96.3">c_current_addr_sk</text></g>
<g id="Join_LeftAnti_22" transform="translate(2655,3495)"><rect class="b" width="160.5" height="104.9"/><rect class="hg" x="2" y="2" width="156.5" height="24"/><text class="h" x="80.25" y="20">Join_LeftAnti_22</text><text x="80.25" y="45.7">c_customer_sk</text><text x="80.25" y="71">c_current_cdemo_sk</text><text x="80.25" y="96.3">c_current_addr_sk</text></g>
<g id="default.customer_address" transform="translate(2269,3648)"><rect class="b" width="193" height="357.9"/><rect class="hp" x="2" y="2" width="189" height="24"/><text class="h" x="96.5" y="20">default.customer_address</text>
<text x="96.5" y="45.7">ca_address_sk</text><text x="96.5" y="71">ca_address_id</text><text x="96.5" y="96.3">ca_street_number</text><text x="96.5" y="121.6">ca_street_name</text><text x="96.5" y="146.9">ca_street_type</text><text x="96.5" y="172.2">ca_suite_number</text><text x="96.5" y="197.5">ca_city</text><text x="96.5" y="222.8">ca_county</text><text x="96.5" y="248.1">ca_state</text><text x="96.5" y="273.4">ca_zip</text><text x="96.5" y="298.7">ca_country</text><text x="96.5" y="324">ca_gmt_offset</text><text x="96.5" y="349.3">ca_location_type</text></g>
<g id="Filter_24" transform="translate(2666,3648)"><rect class="b" width="137" height="357.9"/><rect class="hg" x="2" y="2" width="133" height="24"/><text class="h" x="68.5" y="20">Filter_24</text>
<text x="68.5" y="45.7">ca_address_sk</text><text x="68.5" y="71">ca_address_id</text><text x="68.5" y="96.3">ca_street_number</text><text x="68.5" y="121.6">ca_street_name</text><text x="68.5" y="146.9">ca_street_type</text><text x="68.5" y="172.2">ca_suite_number</text><text x="68.5" y="197.5">ca_city</text><text x="68.5" y="222.8">ca_county</text><text x="68.5" y="248.1">ca_state</text><text x="68.5" y="273.4">ca_zip</text><text x="68.5" y="298.7">ca_country</text><text x="68.5" y="324">ca_gmt_offset</text><text x="68.5" y="349.3">ca_location_type</text></g>
<g id="Project_23" transform="translate(3047,3520)"><rect class="b" width="160" height="79.6"/><rect class="hg" x="2" y="2" width="156" height="24"/><text class="h" x="80" y="20">Project_23</text><text x="80" y="45.7">c_current_cdemo_sk</text><text x="80" y="71">c_current_addr_sk</text></g>
<g id="Project_25" transform="translate(3071,3648)"><rect class="b" width="113" height="54.3"/><rect class="hg" x="2" y="2" width="109" height="24"/><text class="h" x="56.5" y="20">Project_25</text><text x="56.5" y="45.7">ca_address_sk</text></g>
<g id="default.customer_demographics" transform="translate(3007,3748)"><rect class="b" width="241" height="256.7"/><rect class="hp" x="2" y="2" width="237" height="24"/><text class="h" x="120.5" y="20">default.customer_demographics</text>
<text x="120.5" y="45.7">cd_demo_sk</text><text x="120.5" y="71">cd_gender</text><text x="120.5" y="96.3">cd_marital_status</text><text x="120.5" y="121.6">cd_education_status</text><text x="120.5" y="146.9">cd_purchase_estimate</text><text x="120.5" y="172.2">cd_credit_rating</text><text x="120.5" y="197.5">cd_dep_count</text><text x="120.5" y="222.8">cd_dep_employed_count</text><text x="120.5" y="248.1">cd_dep_college_count</text></g>
<g id="Join_Inner_26" transform="translate(3455,3559)"><rect class="b" width="159" height="104.9"/><rect class="hg" x="2" y="2" width="155" height="24"/><text class="h" x="79.5" y="20">Join_Inner_26</text><text x="79.5" y="45.7">c_current_cdemo_sk</text><text x="79.5" y="71">c_current_addr_sk</text><text x="79.5" y="96.3">ca_address_sk</text></g>
<g id="Filter_28" transform="translate(3440,3748)"><rect class="b" width="190.5" height="256.7"/><rect class="hg" x="2" y="2" width="186.5" height="24"/><text class="h" x="95.25" y="20">Filter_28</text>
<text x="95.25" y="45.7">cd_demo_sk</text><text x="95.25" y="71">cd_gender</text><text x="95.25" y="96.3">cd_marital_status</text><text x="95.25" y="121.6">cd_education_status</text><text x="95.25" y="146.9">cd_purchase_estimate</text><text x="95.25" y="172.2">cd_credit_rating</text><text x="95.25" y="197.5">cd_dep_count</text><text x="95.25" y="222.8">cd_dep_employed_count</text><text x="95.25" y="248.1">cd_dep_college_count</text></g>
<g id="Project_27" transform="translate(3828,3620)"><rect class="b" width="160" height="54.3"/><rect class="hg" x="2" y="2" width="156" height="24"/><text class="h" x="80" y="20">Project_27</text><text x="80" y="45.7">c_current_cdemo_sk</text></g>
<g id="Project_29" transform="translate(3823.5,3748)"><rect class="b" width="168.5" height="180.8"/><rect class="hg" x="2" y="2" width="164.5" height="24"/><text class="h" x="84.25" y="20">Project_29</text>
<text x="84.25" y="45.7">cd_demo_sk</text><text x="84.25" y="71">cd_gender</text><text x="84.25" y="96.3">cd_marital_status</text><text x="84.25" y="121.6">cd_education_status</text><text x="84.25" y="146.9">cd_purchase_estimate</text><text x="84.25" y="172.2">cd_credit_rating</text></g>
<g id="Join_Inner_30" transform="translate(4184,3722.4)"><rect class="b" width="169" height="206.1"/><rect class="hg" x="2" y="2" width="165" height="24"/><text class="h" x="84.5" y="20">Join_Inner_30</text>
<text x="84.5" y="45.7">c_current_cdemo_sk</text><text x="84.5" y="71">cd_demo_sk</text><text x="84.5" y="96.3">cd_gender</text><text x="84.5" y="121.6">cd_marital_status</text><text x="84.5" y="146.9">cd_education_status</text><text x="84.5" y="172.2">cd_purchase_estimate</text><text x="84.5" y="197.5">cd_credit_rating</text></g>
<g id="Project_31" transform="translate(4546,3773)"><rect class="b" width="168.5" height="155.5"/><rect class="hg" x="2" y="2" width="164.5" height="24"/><text class="h" x="84.25" y="20">Project_31</text>
<text x="84.25" y="45.7">cd_gender</text><text x="84.25" y="71">cd_marital_status</text><text x="84.25" y="96.3">cd_education_status</text><text x="84.25" y="121.6">cd_purchase_estimate</text><text x="84.25" y="146.9">cd_credit_rating</text></g>
<g id="Aggregate_32" transform="translate(4906.5,3773)"><rect class="b" width="169.5" height="231.4"/><rect class="hg" x="2" y="2" width="165.5" height="24"/><text class="h" x="84.75" y="20">Aggregate_32</text>
<text x="84.75" y="45.7">cd_gender</text><text x="84.75" y="71">cd_marital_status</text><text x="84.75" y="96.3">cd_education_status</text><text x="84.75" y="121.6">cnt1</text><text x="84.75" y="146.9">cd_purchase_estimate</text><text x="84.75" y="172.2">cnt2</text><text x="84.75" y="197.5">cd_credit_rating</text><text x="84.75" y="222.8">cnt3</text></g>
<g id="Sort_33" transform="translate(5268,3773)"><rect class="b" width="169" height="231.4"/><rect class="hg" x="2" y="2" width="165" height="24"/><text class="h" x="84.5" y="20">Sort_33</text>
<text x="84.5" y="45.7">cd_gender</text><text x="84.5" y="71">cd_marital_status</text><text x="84.5" y="96.3">cd_education_status</text><text x="84.5" y="121.6">cnt1</text><text x="84.5" y="146.9">cd_purchase_estimate</text><text x="84.5" y="172.2">cnt2</text><text x="84.5" y="197.5">cd_credit_rating</text><text x="84.5" y="222.8">cnt3</text></g>
<g id="LocalLimit_34" transform="translate(5629,3773)"><rect class="b" width="169.5" height="231.4"/><rect class="hg" x="2" y="2" width="165.5" height="24"/><text class="h" x="84.75" y="20">LocalLimit_34</text>
<text x="84.75" y="45.7">cd_gender</text><text x="84.75" y="71">cd_marital_status</text><text x="84.75" y="96.3">cd_education_status</text><text x="84.75" y="121.6">cnt1</text><text x="84.75" y="146.9">cd_purchase_estimate</text><text x="84.75" y="172.2">cnt2</text><text x="84.75" y="197.5">cd_credit_rating</text><text x="84.75" y="222.8">cnt3</text></g>
<g id="GlobalLimit_35" transform="translate(5991,3773)"><rect class="b" width="169" height="231.4"/><rect class="hg" x="2" y="2" width="165" height="24"/><text class="h" x="84.5" y="20">GlobalLimit_35</text>
<text x="84.5" y="45.7">cd_gender</text><text x="84.5" y="71">cd_marital_status</text><text x="84.5" y="96.3">cd_education_status</text><text x="84.5" y="121.6">cnt1</text><text x="84.5" y="146.9">cd_purchase_estimate</text><text x="84.5" y="172.2">cnt2</text><text x="84.5" y="197.5">cd_credit_rating</text><text x="84.5" y="222.8">cnt3</text></g>
<g id="v" transform="translate(6352,3773)"><rect class="b" width="169" height="231.4"/><rect class="hy" x="2" y="2" width="165" height="24"/><text class="h" x="84.5" y="20">v</text>
<text x="84.5" y="45.7">cd_gender</text><text x="84.5" y="71">cd_marital_status</text><text x="84.5" y="96.3">cd_education_status</text><text x="84.5" y="121.6">cnt1</text><text x="84.5" y="146.9">cd_purchase_estimate</text><text x="84.5" y="172.2">cnt2</text><text x="84.5" y="197.5">cd_credit_rating</text><text x="84.5" y="222.8">cnt3</text></g>
</g>
</svg>
